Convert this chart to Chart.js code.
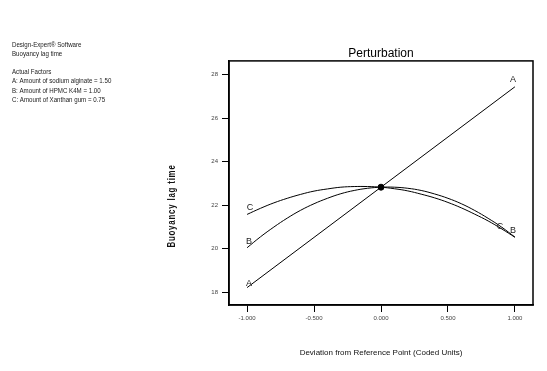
<!DOCTYPE html>
<html>
<head>
<meta charset="utf-8">
<script src="https://cdn.jsdelivr.net/npm/chart.js@4/dist/chart.umd.min.js"></script>
<style>
  html, body { margin: 0; padding: 0; background: #fff; }
  #wrap { width: 547px; height: 371px; }
</style>
</head>
<body>
<div id="wrap"><canvas id="pertChart"></canvas></div>
<script>
var FONT = "'Liberation Sans Narrow', 'Liberation Sans', Arial, sans-serif";

// deviation from reference point (coded units)
var devX = [-1, -0.9, -0.8, -0.7, -0.6, -0.5, -0.4, -0.3, -0.2, -0.1, 0,
	0.1, 0.2, 0.3, 0.4, 0.5, 0.6, 0.7, 0.8, 0.9, 1];
// A: sodium alginate (straight line)
var aX = [-1, 0, 1];
var aValues = [18.22, 22.83, 27.44];
// B: HPMC K4M
var bValues = [20.05, 20.55, 21.00, 21.41, 21.77, 22.07, 22.32, 22.53, 22.68, 22.78, 22.83,
	22.83, 22.78, 22.68, 22.52, 22.32, 22.07, 21.76, 21.40, 21.00, 20.54];
// C: xanthan gum
var cValues = [21.58, 21.86, 22.11, 22.32, 22.50, 22.65, 22.75, 22.83, 22.86, 22.86, 22.83,
	22.76, 22.66, 22.51, 22.34, 22.13, 21.88, 21.59, 21.28, 20.92, 20.53];
var refPoint = [0, 22.83];

var infoLines = [
	"Design-Expert\u00AE Software",
	"Buoyancy lag time",
	"",
	"Actual Factors",
	"A: Amount of sodium alginate = 1.50",
	"B: Amount of HPMC K4M = 1.00",
	"C: Amount of Xanthan gum = 0.75"
];

function pts(xs, ys) {
	return xs.map(function (x, i) { return { x: x, y: ys[i] }; });
}

// letter offsets next to the end points: [dx, dy] in px
var labelSpots = {
	A: { left: [2, -4], right: [-2, -7] },
	B: { left: [2, -6], right: [-2, -7] },
	C: { left: [3, -7], right: [-15, -11] }
};

var framePlugin = {
	id: "framePlugin",
	afterDraw: function (chart) {
		var ctx = chart.ctx;
		var area = chart.chartArea;
		ctx.save();
		ctx.strokeStyle = "#000";
		ctx.lineWidth = 1.5;
		ctx.strokeRect(area.left, area.top, area.right - area.left, area.bottom - area.top);

		// series letters at both ends
		ctx.font = "9px " + FONT;
		ctx.fillStyle = "#222";
		ctx.textAlign = "center";
		ctx.textBaseline = "middle";
		["A", "B", "C"].forEach(function (name, di) {
			var meta = chart.getDatasetMeta(di);
			var first = meta.data[0];
			var last = meta.data[meta.data.length - 1];
			var spot = labelSpots[name];
			ctx.fillText(name, first.x + spot.left[0], first.y + spot.left[1]);
			ctx.fillText(name, last.x + spot.right[0], last.y + spot.right[1]);
		});

		// info block top left (squeezed like the original)
		ctx.save();
		ctx.translate(12, 0);
		ctx.scale(0.82, 1);
		ctx.font = "7.5px " + FONT;
		ctx.textAlign = "left";
		ctx.textBaseline = "middle";
		infoLines.forEach(function (line, i) {
			ctx.fillText(line, 0, 45 + i * 9.1);
		});
		ctx.restore();

		// y axis title
		ctx.translate(172, 206);
		ctx.rotate(-Math.PI / 2);
		ctx.scale(0.79, 1);
		ctx.font = "bold 10px " + FONT;
		ctx.letterSpacing = "1px";
		ctx.textAlign = "center";
		ctx.fillStyle = "#111";
		ctx.fillText("Buoyancy lag time", 0, 0);
		ctx.restore();
	}
};

var pertChart = new Chart(document.getElementById("pertChart"), {
	type: "line",
	data: {
		datasets: [
			{
				label: "A",
				data: pts(aX, aValues),
				borderColor: "#000",
				borderWidth: 1,
				pointRadius: 0,
				tension: 0
			},
			{
				label: "B",
				data: pts(devX, bValues),
				borderColor: "#000",
				borderWidth: 1,
				pointRadius: 0,
				tension: 0.4
			},
			{
				label: "C",
				data: pts(devX, cValues),
				borderColor: "#000",
				borderWidth: 1,
				pointRadius: 0,
				tension: 0.4
			},
			{
				label: "ref",
				data: [{ x: refPoint[0], y: refPoint[1] }],
				showLine: false,
				pointRadius: 3,
				pointBackgroundColor: "#000",
				pointBorderColor: "#000"
			}
		]
	},
	options: {
		responsive: true,
		maintainAspectRatio: false,
		animation: false,
		events: [],
		layout: { padding: { left: 160, right: 14, top: 0, bottom: 0 } },
		plugins: {
			legend: { display: false },
			tooltip: { enabled: false },
			title: {
				display: true,
				text: "Perturbation",
				fullSize: false,
				color: "#000",
				font: { family: FONT, size: 12, weight: "normal" },
				padding: { top: 46.5, bottom: 0 }
			}
		},
		scales: {
			x: {
				type: "linear",
				min: -1.135,
				max: 1.135,
				afterFit: function (scale) { scale.height = 66; },
				ticks: {
					stepSize: 0.5,
					includeBounds: false,
					maxRotation: 0,
					padding: 3,
					color: "#444",
					font: { family: FONT, size: 6 },
					callback: function (v) { return v.toFixed(3); }
				},
				grid: { drawOnChartArea: false, drawTicks: true, tickLength: 7, color: "#000" },
				border: { display: true, color: "#000", width: 1.5 },
				title: {
					display: true,
					text: "Deviation from Reference Point (Coded Units)",
					color: "#111",
					font: { family: FONT, size: 8 },
					padding: { bottom: 13 }
				}
			},
			y: {
				min: 17.42,
				max: 28.63,
				afterFit: function (scale) { scale.width = 69; },
				ticks: {
					stepSize: 2,
					includeBounds: false,
					padding: 4,
					color: "#444",
					font: { family: FONT, size: 6 }
				},
				grid: { drawOnChartArea: false, drawTicks: true, tickLength: 7, color: "#000" },
				border: { display: true, color: "#000", width: 1.5 }
			}
		}
	},
	plugins: [framePlugin]
});
</script>
</body>
</html>
